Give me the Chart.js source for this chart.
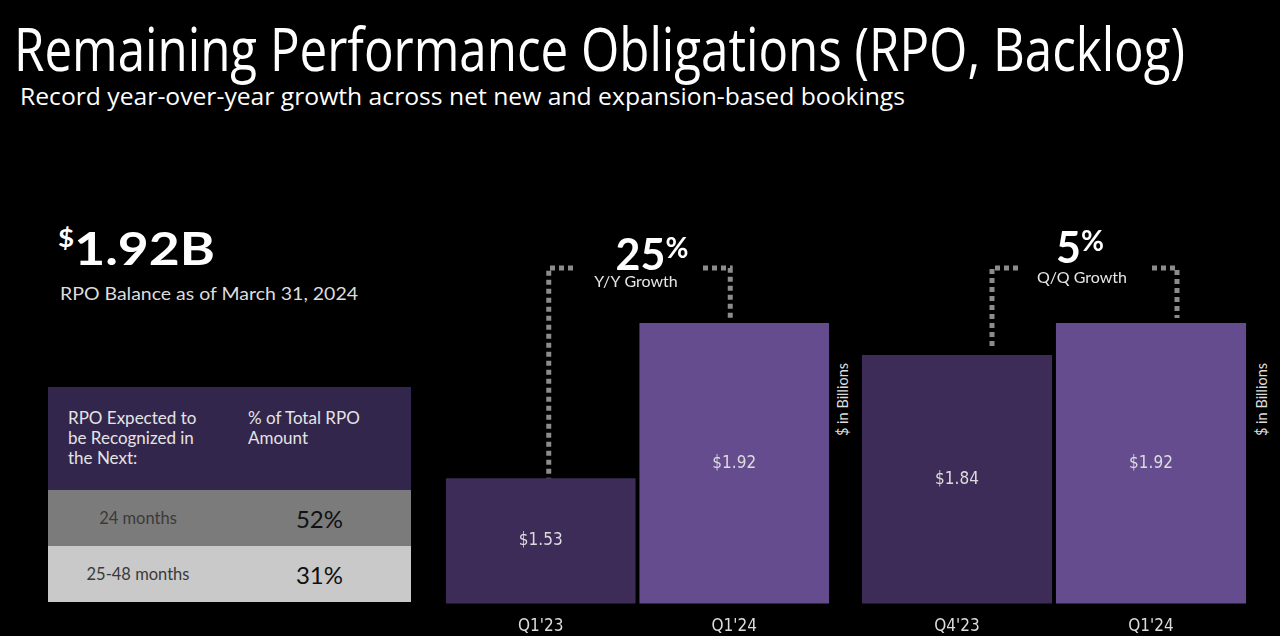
<!DOCTYPE html>
<html>
<head>
<meta charset="utf-8">
<script src="https://cdn.jsdelivr.net/npm/chart.js@4.4.1/dist/chart.umd.min.js"></script>
<style>
  body { margin: 0; background: #000; width: 1280px; height: 636px; overflow: hidden; position: relative; font-family: "Open Sans", Lato, sans-serif; color: #fff; }
  .abs { position: absolute; white-space: nowrap; transform-origin: 0 0; }
  #title { left: 14px; top: 13px; font-size: 60px; line-height: 70px; }
  #subtitle { left: 20px; top: 81px; font-size: 23px; line-height: 30px; }
  #big { left: 58px; top: 222px; font-family: Lato, sans-serif; font-weight: 700; font-size: 46px; line-height: 52px; }
  #big sup { font-size: 24px; vertical-align: 18px; line-height: 0; }
  #asof { left: 60px; top: 281px; font-family: Lato, sans-serif; font-size: 18px; color: #ddd; line-height: 24px; }
  #tbl { left: 48px; top: 387px; border-collapse: collapse; font-family: Lato, sans-serif; }
  #tbl td { padding: 0; vertical-align: middle; }
  #tbl .hd td { background: #33264c; color: #e4e4e4; font-size: 17px; line-height: 20px; vertical-align: top; height: 103px; padding: 21px 0 0 20px; box-sizing: border-box; }
  #tbl .r1 td { background: #7b7b7b; height: 56px; }
  #tbl .r2 td { background: #c9c9c9; height: 56px; }
  #tbl .lab { text-align: center; color: #3a3a3a; font-size: 16.5px; }
  #tbl .pct { text-align: center; color: #111; font-size: 24px; }
  .units { font-family: Lato, sans-serif; font-size: 14.5px; line-height: 18px; color: #ddd; transform: rotate(-90deg); transform-origin: 0 0; }
  canvas { position: absolute; }
</style>
</head>
<body>
<div id="title" class="abs" data-w="1171">Remaining Performance Obligations (RPO, Backlog)</div>
<div id="subtitle" class="abs" data-w="885">Record year-over-year growth across net new and expansion-based bookings</div>
<div id="big" class="abs" data-w="157"><sup>$</sup>1.92B</div>
<div id="asof" class="abs" data-w="298">RPO Balance as of March 31, 2024</div>
<table id="tbl" class="abs"></table>
<div class="abs units" style="left:834px; top:436px;">$ in Billions</div>
<div class="abs units" style="left:1253px; top:436px;">$ in Billions</div>
<div style="position:absolute; left:444px; top:197px; width:387px; height:456px;"><canvas id="yoyChart"></canvas></div>
<div style="position:absolute; left:860px; top:197px; width:388px; height:456px;"><canvas id="qoqChart"></canvas></div>

<script>
// data
const yoyCategories = ["Q1'23", "Q1'24"];
const yoyValues = [1.53, 1.92];
const qoqCategories = ["Q4'23", "Q1'24"];
const qoqValues = [1.84, 1.92];
const growthValues = ["25", "5"];
const growthLabels = ["Y/Y Growth", "Q/Q Growth"];

const tableHeaders = ["RPO Expected to<br>be Recognized in<br>the Next:", "% of Total RPO<br>Amount"];
const tablePeriods = ["24 months", "25-48 months"];
const tableShares = ["52%", "31%"];

const barColors = ["#3d2c57", "#644c8f"];
const narrowFont = "'Liberation Sans Narrow', 'DejaVu Sans Condensed', sans-serif";

// table
const tbl = document.getElementById("tbl");
let html = '<tr class="hd"><td style="width:180px">' + tableHeaders[0] + '</td><td style="width:183px">' + tableHeaders[1] + '</td></tr>';
tablePeriods.forEach(function (p, i) {
  html += '<tr class="r' + (i + 1) + '"><td class="lab">' + p + '</td><td class="pct">' + tableShares[i] + '</td></tr>';
});
tbl.innerHTML = html;

// connectors, growth text and value labels
const decoPlugin = {
  id: "deco",
  afterDatasetsDraw(chart, args, opts) {
    const ctx = chart.ctx;
    const bars = chart.getDatasetMeta(0).data;
    const bottom = chart.chartArea.bottom;
    const values = chart.data.datasets[0].data;
    ctx.save();

    // values in the middle of each bar
    ctx.fillStyle = "#dcdcdc";
    ctx.font = "17px " + narrowFont;
    ctx.textAlign = "center";
    ctx.textBaseline = "middle";
    for (let i = 0; i < bars.length; i++) {
      ctx.fillText("$" + values[i].toFixed(2), bars[i].x, (bars[i].y + bottom) / 2);
    }

    // dotted bracket
    ctx.strokeStyle = "#8c8c8c";
    ctx.lineWidth = 5;
    ctx.setLineDash([5, 4]);
    ctx.beginPath();
    ctx.moveTo(opts.leftEnd, opts.lineY);
    ctx.lineTo(bars[0].x + opts.leftOff, opts.lineY);
    ctx.lineTo(bars[0].x + opts.leftOff, bars[0].y - opts.gap0);
    ctx.stroke();
    ctx.beginPath();
    ctx.moveTo(opts.rightEnd, opts.lineY);
    ctx.lineTo(bars[1].x + opts.rightOff, opts.lineY);
    ctx.lineTo(bars[1].x + opts.rightOff, bars[1].y - 5);
    ctx.stroke();
    ctx.setLineDash([]);

    // growth figure
    ctx.fillStyle = "#ffffff";
    ctx.textAlign = "left";
    ctx.textBaseline = "alphabetic";
    ctx.font = "bold 43px Lato, sans-serif";
    const numW = ctx.measureText(opts.num).width;
    ctx.font = "bold 28px Lato, sans-serif";
    const pctW = ctx.measureText("%").width;
    const x0 = opts.numX - (numW + pctW) / 2;
    ctx.font = "bold 43px Lato, sans-serif";
    ctx.fillText(opts.num, x0, opts.numY);
    ctx.font = "bold 28px Lato, sans-serif";
    ctx.fillText("%", x0 + numW, opts.numY - 12);
    ctx.font = "16px Lato, sans-serif";
    ctx.fillStyle = "#e6e6e6";
    ctx.textAlign = "center";
    ctx.fillText(opts.label, opts.labelX, opts.labelY);
    ctx.restore();
  }
};

function makeChart(id, labels, values, deco) {
  return new Chart(document.getElementById(id).getContext("2d"), {
    type: "bar",
    data: {
      labels: labels,
      datasets: [{
        data: values,
        backgroundColor: barColors,
        borderWidth: 0,
        categoryPercentage: 1,
        barPercentage: 0.98
      }]
    },
    options: {
      responsive: true,
      maintainAspectRatio: false,
      animation: false,
      layout: { padding: { left: 0, right: 0, top: 0, bottom: 3 } },
      plugins: { legend: { display: false }, tooltip: { enabled: false }, deco: deco },
      scales: {
        x: {
          grid: { display: false, drawTicks: false },
          border: { display: false },
          ticks: { color: "#dcdcdc", font: { size: 17, family: narrowFont }, padding: 13 }
        },
        y: {
          display: false,
          min: 1.215,
          max: 2.237
        }
      }
    },
    plugins: [decoPlugin]
  });
}

makeChart("yoyChart", yoyCategories, yoyValues, {
  num: growthValues[0], label: growthLabels[0],
  numX: 208, numY: 73, labelX: 192, labelY: 90,
  lineY: 71, leftOff: 8, leftEnd: 129, rightOff: -4, rightEnd: 259, gap0: 0
});
makeChart("qoqChart", qoqCategories, qoqValues, {
  num: growthValues[1], label: growthLabels[1],
  numX: 220, numY: 66, labelX: 222, labelY: 86,
  lineY: 71, leftOff: 35, leftEnd: 158, rightOff: 26, rightEnd: 292, gap0: 5
});

// fit slide headings to their widths
document.querySelectorAll("[data-w]").forEach(function (el) {
  const w = el.getBoundingClientRect().width;
  el.style.transform = "scaleX(" + (Number(el.dataset.w) / w) + ")";
});
</script>
</body>
</html>
